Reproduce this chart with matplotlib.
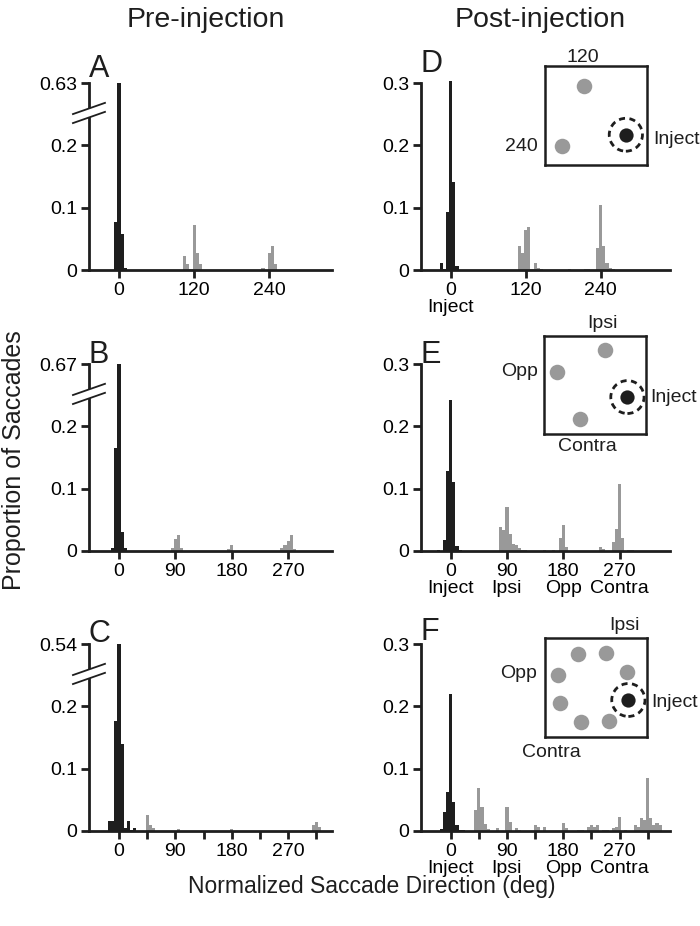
import matplotlib.pyplot as plt
import numpy as np

plt.rcParams['font.family'] = ['Liberation Sans', 'DejaVu Sans']

# 5 deg bins: centres (deg) and proportion of saccades
# black = bins around the injected direction, gray = everything else
a_blk_x = [-5, 0, 5, 10]
a_blk_y = [0.077, 0.63, 0.057, 0.003]
a_gry_x = [105, 110, 115, 120, 125, 130, 230, 240, 245, 250]
a_gry_y = [0.023, 0.009, 0.002, 0.072, 0.028, 0.009, 0.003, 0.028, 0.038, 0.009]

b_blk_x = [-10, -5, 0, 5, 10]
b_blk_y = [0.004, 0.166, 0.67, 0.031, 0.004]
b_gry_x = [85, 90, 95, 100, 175, 180, 260, 265, 270, 275, 280]
b_gry_y = [0.005, 0.020, 0.025, 0.004, 0.003, 0.009, 0.004, 0.010, 0.016, 0.025, 0.003]

c_blk_x = [-15, -10, -5, 0, 5, 10, 15, 20, 25]
c_blk_y = [0.016, 0.016, 0.176, 0.54, 0.14, 0.004, 0.016, 0.002, 0.005]
c_gry_x = [45, 50, 55, 95, 180, 310, 315, 320]
c_gry_y = [0.026, 0.010, 0.005, 0.003, 0.003, 0.010, 0.015, 0.006]

d_blk_x = [-15, -10, -5, 0, 5, 10]
d_blk_y = [0.012, 0.002, 0.093, 0.304, 0.142, 0.006]
d_gry_x = [110, 115, 120, 125, 130, 135, 140, 145, 190, 215, 220,
           235, 240, 245, 250, 255, 260]
d_gry_y = [0.038, 0.027, 0.064, 0.069, 0.002, 0.012, 0.003, 0.002, 0.002, 0.002, 0.002,
           0.035, 0.104, 0.038, 0.012, 0.004, 0.002]

e_blk_x = [-20, -10, -5, 0, 5, 10, 15]
e_blk_y = [0.002, 0.018, 0.128, 0.243, 0.111, 0.008, 0.002]
e_gry_x = [80, 85, 90, 95, 100, 105, 110, 115, 120, 150, 165, 175, 180, 185,
           240, 245, 260, 265, 270, 275, 285, 290]
e_gry_y = [0.038, 0.034, 0.070, 0.028, 0.011, 0.009, 0.004, 0.002, 0.002, 0.002, 0.002,
           0.021, 0.042, 0.006, 0.006, 0.003, 0.015, 0.035, 0.108, 0.021, 0.002, 0.002]

f_blk_x = [-15, -10, -5, 0, 5, 10, 15, 20]
f_blk_y = [0.003, 0.030, 0.063, 0.220, 0.046, 0.010, 0.002, 0.002]
f_gry_x = [40, 45, 50, 55, 60, 75, 90, 95, 105, 110, 135, 140, 150, 180, 185,
           205, 210, 220, 225, 230, 235, 245, 250, 260, 265, 270, 280,
           295, 300, 305, 310, 315, 320, 325, 330, 335]
f_gry_y = [0.033, 0.069, 0.038, 0.012, 0.003, 0.005, 0.039, 0.015, 0.004, 0.002,
           0.009, 0.006, 0.006, 0.013, 0.004, 0.002, 0.002, 0.006, 0.009, 0.006,
           0.009, 0.002, 0.002, 0.005, 0.006, 0.022, 0.002,
           0.010, 0.006, 0.021, 0.018, 0.085, 0.021, 0.010, 0.013, 0.009]

# tick labels
ticks_3 = [0, 120, 240]
ticks_4 = [0, 90, 180, 270]
ticks_8 = [0, 45, 90, 135, 180, 225, 270, 315]
lab_d = ['0\nInject', '120', '240']
lab_e = ['0\nInject', '90\nIpsi', '180\nOpp', '270\nContra']
lab_f = ['0\nInject', '', '90\nIpsi', '', '180\nOpp', '', '270\nContra', '']
lab_c = ['0', '', '90', '', '180', '', '270', '']

# target layouts of the insets (deg)
targ_d = [0, 120, 240]
targ_e = [0, 90, 180, 270]
targ_f = [0, 45, 90, 135, 180, 225, 270, 315]

BLK = '#1e1e1e'
GRY = '#999999'
INK = '#1e1e1e'

fig = plt.figure(figsize=(7.0, 9.26), dpi=100)

row_bottom = [0.7084, 0.4050, 0.1026]
ax_h = 0.2019
left_x0, left_w = 0.1271, 0.3471
right_x0, right_w = 0.6010, 0.3555


def style(ax):
    for s in ['top', 'right']:
        ax.spines[s].set_visible(False)
    for s in ['left', 'bottom']:
        ax.spines[s].set_linewidth(2.0)
        ax.spines[s].set_color(INK)
    ax.tick_params(direction='out', length=6, width=2, color=INK, labelsize=14, pad=2.5)
    ax.set_ylim(0, 0.3)


def draw_break(ax, yb):
    # "//" marks on the y axis; sizes given in pixels of the axes
    bb = ax.get_position()
    wpx, hpx = bb.width * 700, bb.height * 926
    dx, dy, gap = 16 / wpx, 5.6 / hpx, 4.5 / hpx
    e = 5 / wpx
    yl = lambda x, s: yb + s * gap + (x / dx) * dy
    ax.fill([-e, e, e, -e], [yl(-e, -1), yl(e, -1), yl(e, 1), yl(-e, 1)],
            color='white', transform=ax.transAxes, clip_on=False, zorder=6, lw=0)
    for s in (-1, 1):
        ax.plot([-dx, dx], [yl(-dx, s), yl(dx, s)], transform=ax.transAxes,
                color=INK, lw=1.3, clip_on=False, zorder=7)


def hist_panel(ax, bx, by, gx, gy, top_label=None):
    by = np.array(by)
    gy = np.array(gy)
    if top_label is not None:
        by = np.where(by > 0.3, 0.3, by)
    ax.bar(gx, gy, width=5, color=GRY, lw=0, clip_on=False, zorder=2)
    ax.bar(bx, by, width=5, color=BLK, lw=0, clip_on=False, zorder=2)
    style(ax)
    ax.set_yticks([0, 0.1, 0.2, 0.3])
    if top_label is not None:
        ax.set_yticklabels(['0', '0.1', '0.2', top_label])
        draw_break(ax, 0.84)
    else:
        ax.set_yticklabels(['0', '0.1', '0.2', '0.3'])


panels = [
    ('A', a_blk_x, a_blk_y, a_gry_x, a_gry_y, '0.63', ticks_3, ['0', '120', '240'], 0, 0, 1.03),
    ('B', b_blk_x, b_blk_y, b_gry_x, b_gry_y, '0.67', ticks_4, ['0', '90', '180', '270'], 0, 1, 1.005),
    ('C', c_blk_x, c_blk_y, c_gry_x, c_gry_y, '0.54', ticks_8, lab_c, 0, 2, 1.012),
    ('D', d_blk_x, d_blk_y, d_gry_x, d_gry_y, None, ticks_3, lab_d, 1, 0, 1.06),
    ('E', e_blk_x, e_blk_y, e_gry_x, e_gry_y, None, ticks_4, lab_e, 1, 1, 1.005),
    ('F', f_blk_x, f_blk_y, f_gry_x, f_gry_y, None, ticks_8, lab_f, 1, 2, 1.02),
]

for letter, bx, by, gx, gy, toplab, tks, tlabs, col, row, ly in panels:
    if col == 0:
        ax = fig.add_axes([left_x0, row_bottom[row], left_w, ax_h])
        ax.set_xlim(-48, 340)
    else:
        ax = fig.add_axes([right_x0, row_bottom[row], right_w, ax_h])
        ax.set_xlim(-48, 350)
    hist_panel(ax, bx, by, gx, gy, toplab)
    ax.set_xticks(tks)
    ax.set_xticklabels(tlabs, linespacing=1.0)
    ax.text(0.0, ly, letter, transform=ax.transAxes, fontsize=22, va='baseline',
            ha='left', color=INK)


def inset(pos, angles, offset, labels):
    ia = fig.add_axes(pos)
    ia.set_xlim(-50.5, 50.5)
    ia.set_ylim(-49.5, 49.5)
    ia.set_xticks([])
    ia.set_yticks([])
    for s in ia.spines.values():
        s.set_linewidth(1.8)
        s.set_color(INK)
    r, rot = 37, -20
    th = np.deg2rad(np.array(angles) + rot)
    px = offset[0] + r * np.cos(th)
    py = offset[1] + r * np.sin(th)
    ia.scatter(px[1:], py[1:], s=125, color=GRY, lw=0, clip_on=False)
    ia.scatter(px[:1], py[:1], s=105, color=BLK, lw=0, clip_on=False, zorder=3)
    ring = plt.Circle((px[0], py[0]), 16.5, fill=False, ls=(0, (2.2, 1.6)), lw=2.0,
                      color=INK, clip_on=False, zorder=3)
    ia.add_patch(ring)
    for txt, x, y, ha in labels:
        ia.text(x, y, txt, ha=ha, va='center', fontsize=14, color=INK, clip_on=False)


inset([0.7786, 0.8218, 0.1453, 0.1066], targ_d, (-5, -6.5),
      [('120', -13, 58.5, 'center'), ('240', -58, -30.5, 'right'),
       ('Inject', 57, -23.5, 'left')])
inset([0.7776, 0.5310, 0.1453, 0.1066], targ_e, (-2.75, 0.5),
      [('Ipsi', 7.5, 62, 'center'), ('Opp', -57, 13.5, 'right'),
       ('Inject', 55, -13, 'left'), ('Contra', -8, -61.5, 'center')])
inset([0.7786, 0.2044, 0.1453, 0.1066], targ_f, (-2.5, 0),
      [('Ipsi', 28.5, 62.5, 'center'), ('Opp', -58, 13.5, 'right'),
       ('Inject', 55, -14.8, 'left'), ('Contra', -44, -65.8, 'center')])

fig.text(0.294, 0.971, 'Pre-injection', ha='center', va='baseline', fontsize=20.5, color=INK)
fig.text(0.771, 0.971, 'Post-injection', ha='center', va='baseline', fontsize=20.5, color=INK)
fig.text(0.531, 0.036, 'Normalized Saccade Direction (deg)', ha='center', va='baseline',
         fontsize=16.5, color=INK)
fig.text(0.02, 0.503, 'Proportion of Saccades', ha='center', va='center', rotation=90,
         fontsize=18, color=INK)

fig.savefig('out.png', dpi=100, facecolor='white')
